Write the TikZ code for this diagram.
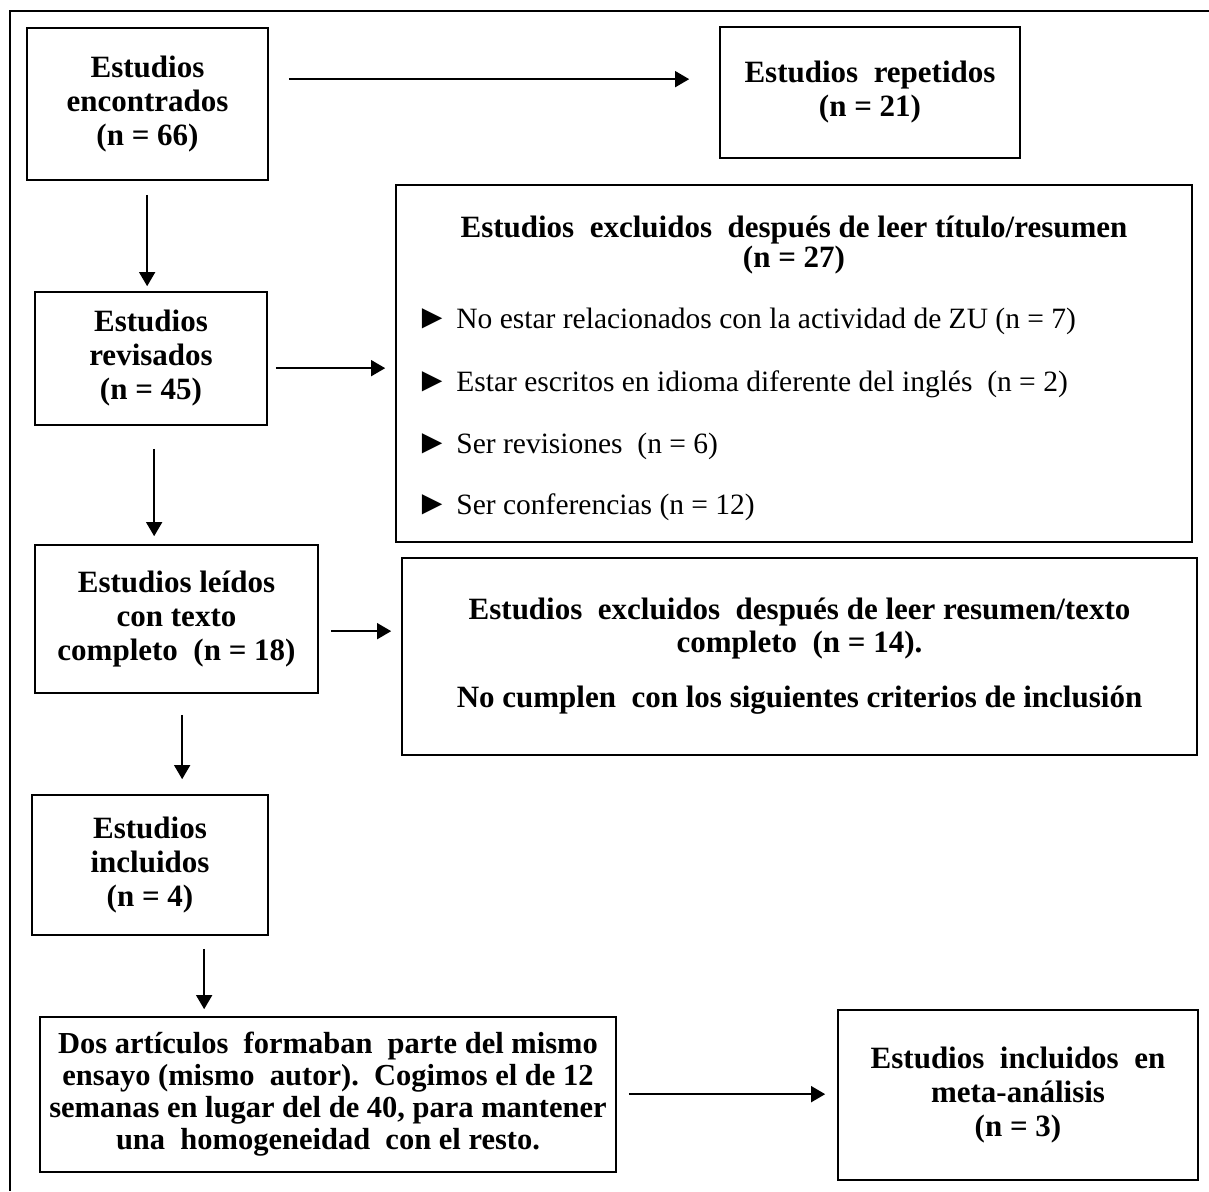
\documentclass[tikz,border=0pt]{standalone}
\usepackage{fontspec}
\setmainfont{Liberation Serif}
\usetikzlibrary{arrows.meta,calc}
\newcommand{\tri}{{\fontsize{34}{30}\selectfont ►}}
\begin{document}
\begin{tikzpicture}[x=1pt,y=-1pt,
  box/.style={draw=black, line width=1.7pt, align=center, inner sep=0pt,
    font=\fontsize{31}{34}\selectfont\bfseries},
  title/.style={align=center, inner sep=0pt, font=\fontsize{31}{29.5}\selectfont\bfseries},
  item/.style={anchor=west, inner sep=0pt, font=\fontsize{29.5}{30}\selectfont},
  arr/.style={line width=1.4pt, -{Triangle[length=14pt,width=16pt]}}]
\useasboundingbox (0,0) rectangle (1209,1191);
% outer frame (open at right and bottom)
\draw[line width=1.3pt] (1209,11) -- (10,11) -- (10,1191);

% boxes
\node[box, minimum width=241pt, minimum height=152pt] (b1) at (147.5,104) {Estudios\\encontrados\\(n = 66)};
\node[box, minimum width=300pt, minimum height=131pt] (b2) at (870,92.5) {Estudios\ \ repetidos\\(n = 21)};
\node[box, minimum width=232pt, minimum height=133pt] (b3) at (151,358.5) {Estudios\\revisados\\(n = 45)};
\node[box, minimum width=796pt, minimum height=357pt] (b4) at (794,363.5) {};
\node[box, minimum width=283pt, minimum height=148pt] (b5) at (176.5,619) {Estudios leídos\\con texto\\completo\ \ (n = 18)};
\node[box, minimum width=795pt, minimum height=197pt, font=\fontsize{31}{33}\selectfont\bfseries] (b6) at (799.5,656.5)
  {Estudios\ \ excluidos\ \ después de leer resumen/texto\\completo\ \ (n = 14).\\[22pt]No cumplen\ \ con los siguientes criterios de inclusión};
\node[box, minimum width=236pt, minimum height=140pt] (b7) at (150,865) {Estudios\\incluidos\\(n = 4)};
\node[box, minimum width=576pt, minimum height=155pt, font=\fontsize{30.5}{32}\selectfont\bfseries] (b8) at (328,1094.5)
  {Dos artículos\ \ formaban\ \ parte del mismo\\ensayo (mismo\ \ autor).\ \ Cogimos el de 12\\semanas en lugar del de 40, para mantener\\una\ \ homogeneidad\ \ con el resto.};
\node[box, minimum width=360pt, minimum height=170pt] (b9) at (1018,1095) {Estudios\ \ incluidos\ \ en\\meta-análisis\\(n = 3)};

% contents of the large exclusion box
\node[title] (t4) at ($(b4.north)+(0,61)$) {Estudios\ \ excluidos\ \ después de leer título/resumen\\(n = 27)};
\node[item] (i1) at ($(b4.north west)+(20,137)$) {\tri\ No estar relacionados con la actividad de ZU (n = 7)};
\node[item] (i2) at ($(b4.north west)+(20,200)$) {\tri\ Estar escritos en idioma diferente del inglés\ \ (n = 2)};
\node[item] (i3) at ($(b4.north west)+(20,262)$) {\tri\ Ser revisiones\ \ (n = 6)};
\node[item] (i4) at ($(b4.north west)+(20,323)$) {\tri\ Ser conferencias (n = 12)};

% connectors
\draw[arr] ($(b1.north east)+(20,52)$) -- ($(b2.north west)+(-30,53)$);
\draw[arr] ($(b1.south west)+(121,14)$) -- ($(b3.north west)+(113,-5)$);
\draw[arr] ($(b3.north east)+(8,77)$) -- ($(b4.north west)+(-10,184)$);
\draw[arr] ($(b3.south west)+(120,23)$) -- ($(b5.north west)+(120,-8)$);
\draw[arr] ($(b5.north east)+(12,87)$) -- ($(b6.north west)+(-10,74)$);
\draw[arr] ($(b5.south west)+(148,21)$) -- ($(b7.north west)+(151,-15)$);
\draw[arr] ($(b7.south west)+(173,13)$) -- ($(b8.north west)+(165,-7)$);
\draw[arr] ($(b8.north east)+(12,78)$) -- ($(b9.north west)+(-12,85)$);
\end{tikzpicture}
\end{document}
